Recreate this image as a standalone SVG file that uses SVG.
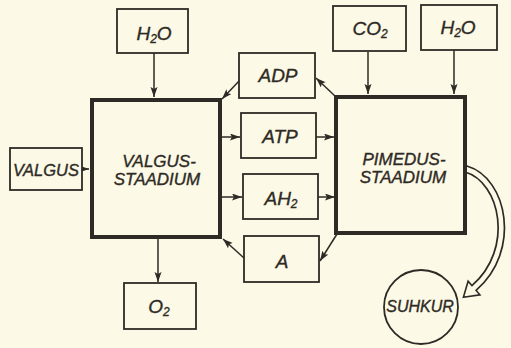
<svg xmlns="http://www.w3.org/2000/svg" width="511" height="348" viewBox="0 0 511 348">
<style>
.bg{fill:#fcf9e6}
.box{fill:#fcf9e6;stroke:#2e2a25;stroke-width:1.8}
.big{fill:#fcf9e6;stroke:#2e2a25;stroke-width:4}
.t{font-family:"Liberation Sans",Arial,sans-serif;font-style:italic;fill:#2e2a25;stroke:#2e2a25;stroke-width:0.35;text-anchor:middle}
.ln{stroke:#2e2a25;stroke-width:1.5;fill:none;marker-end:url(#ah)}
.sub{font-size:12px}
</style>
<defs>
<marker id="ah" markerUnits="userSpaceOnUse" markerWidth="12" markerHeight="8" refX="10" refY="3.5" orient="auto">
<path d="M0,0 L10,3.5 L0,7 L2,3.5 z" fill="#2e2a25"/>
</marker>
</defs>
<rect class="bg" x="0" y="0" width="511" height="348"/>
<g id="connectors">
<line class="ln" x1="154" y1="53" x2="154" y2="97"/>
<line class="ln" x1="158" y1="237" x2="158" y2="282"/>
<line class="ln" x1="368" y1="52" x2="368" y2="94"/>
<line class="ln" x1="454" y1="50" x2="454" y2="94"/>
<line class="ln" x1="82" y1="169" x2="89" y2="169"/>
<line class="ln" x1="220" y1="137" x2="240" y2="137"/>
<line class="ln" x1="316" y1="137" x2="334" y2="137"/>
<line class="ln" x1="220" y1="197" x2="242" y2="197"/>
<line class="ln" x1="318" y1="197" x2="335" y2="197"/>
<line class="ln" x1="240" y1="80" x2="222" y2="99"/>
<line class="ln" x1="336" y1="97" x2="316" y2="78"/>
<line class="ln" x1="244" y1="258" x2="223" y2="239"/>
<line class="ln" x1="337" y1="234" x2="320" y2="261"/>
<g id="hollow-arrow">
<path d="M456 166 L466 169 C504 180 518 250 474 288" fill="none" stroke="#2e2a25" stroke-width="8"/>
<polygon points="463.4,297.2 479.9,294.8 468.1,281.2" fill="#fcf9e6" stroke="#2e2a25" stroke-width="1.6" stroke-linejoin="miter"/>
<path d="M456 166 L466 169 C504 180 518 250 474 288 L472 290" fill="none" stroke="#fcf9e6" stroke-width="4.6"/>
</g>
</g>
<g id="h2o-left"><rect class="box" x="117" y="9" width="71" height="44"/><text class="t" x="154" y="40" font-size="19">H<tspan class="sub" dy="3">2</tspan><tspan dy="-3">O</tspan></text></g>
<g id="valgus"><rect class="box" x="10" y="148" width="72" height="42"/><text class="t" x="46" y="176" font-size="16.5">VALGUS</text></g>
<g id="valgus-staadium"><rect class="big" x="92" y="100" width="128" height="137"/><text class="t" x="159" y="167" font-size="17">VALGUS-</text><text class="t" x="157" y="185" font-size="17">STAADIUM</text></g>
<g id="o2"><rect class="box" x="124" y="283" width="72" height="46"/><text class="t" x="159" y="313" font-size="19">O<tspan class="sub" dy="3">2</tspan></text></g>
<g id="adp"><rect class="box" x="239" y="53" width="76" height="45"/><text class="t" x="278" y="82" font-size="19">ADP</text></g>
<g id="atp"><rect class="box" x="241" y="113" width="75" height="45"/><text class="t" x="280" y="143" font-size="19">ATP</text></g>
<g id="ah2"><rect class="box" x="243" y="174" width="75" height="45"/><text class="t" x="281" y="205" font-size="19">AH<tspan class="sub" dy="3">2</tspan></text></g>
<g id="a"><rect class="box" x="244" y="236" width="75" height="46"/><text class="t" x="282" y="268" font-size="19">A</text></g>
<g id="co2"><rect class="box" x="333" y="6" width="73" height="45"/><text class="t" x="370" y="35" font-size="19">CO<tspan class="sub" dy="3">2</tspan></text></g>
<g id="h2o-right"><rect class="box" x="421" y="5" width="76" height="45"/><text class="t" x="458" y="34" font-size="19">H<tspan class="sub" dy="3">2</tspan><tspan dy="-3">O</tspan></text></g>
<g id="pimedus-staadium"><rect class="big" x="336" y="97" width="129" height="136"/><text class="t" x="404" y="165" font-size="17">PIMEDUS-</text><text class="t" x="403" y="183" font-size="17">STAADIUM</text></g>
<g id="suhkur"><circle class="box" cx="421" cy="307" r="37"/><text class="t" x="420" y="312" font-size="16">SUHKUR</text></g>
</svg>
